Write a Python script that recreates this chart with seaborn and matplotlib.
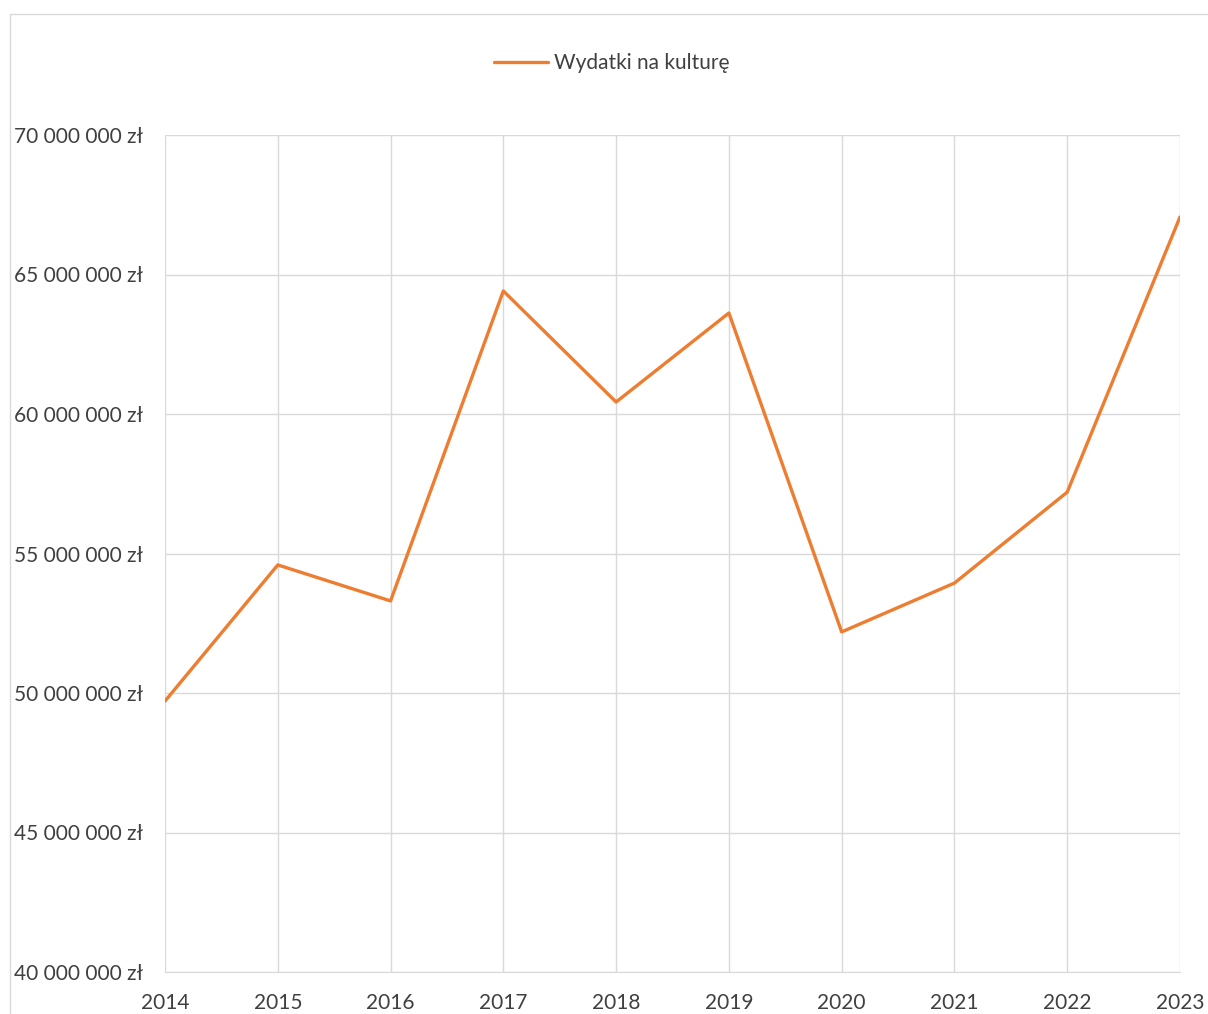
import pandas as pd
import seaborn as sns
import matplotlib.pyplot as plt
from matplotlib.patches import Rectangle
from matplotlib.ticker import FuncFormatter, MultipleLocator

years = [2014, 2015, 2016, 2017, 2018, 2019, 2020, 2021, 2022, 2023]
spending = [49.71e6, 54.59e6, 53.30e6, 64.41e6, 60.43e6, 63.62e6,
            52.19e6, 53.94e6, 57.20e6, 67.06e6]
series_name = "Wydatki na kulturę"

df = pd.DataFrame({"Rok": years, "Wydatki": spending})

sns.set_style("white")
plt.rcParams['font.family'] = ['Lato', 'DejaVu Sans']
text_col = '#404040'
grid_col = '#d9d9d9'

fig = plt.figure(figsize=(12.08, 10.14), dpi=100)
ax = fig.add_axes([165/1208, 42/1014, (1180-165)/1208, (972-135)/1014])

sns.lineplot(data=df, x="Rok", y="Wydatki", ax=ax, color='#ED7D31',
             linewidth=2.4, label=series_name, legend=False)

ax.set_xlim(2014, 2023)
ax.set_ylim(40e6, 70e6)
ax.set_xticks(years)
ax.yaxis.set_major_locator(MultipleLocator(5e6))
ax.yaxis.set_major_formatter(FuncFormatter(
    lambda v, p: f"{int(v):,}".replace(",", " ") + " zł"))
ax.grid(True, color=grid_col, linewidth=1)
for s in ax.spines.values():
    s.set_visible(False)
ax.spines['bottom'].set_visible(True)
ax.spines['bottom'].set_color(grid_col)
ax.set_xlabel('')
ax.set_ylabel('')
ax.tick_params(axis='both', length=0, labelsize=15, labelcolor=text_col)
ax.tick_params(axis='x', pad=15)
ax.tick_params(axis='y', pad=109)
for t in ax.get_yticklabels():
    t.set_horizontalalignment('left')

# outer chart frame
fig.patches.append(Rectangle((10/1208, -0.1), 1.2, (1014-14)/1014 + 0.1,
                             transform=fig.transFigure, fill=False,
                             edgecolor=grid_col, linewidth=1))

handles, labels = ax.get_legend_handles_labels()
leg = fig.legend(handles, labels, loc='center', bbox_to_anchor=(612/1208, 1 - 63/1014),
                 frameon=False, fontsize=15, handlelength=2.6, handletextpad=0.3)
for t in leg.get_texts():
    t.set_color(text_col)

fig.savefig('out.png', dpi=100)
